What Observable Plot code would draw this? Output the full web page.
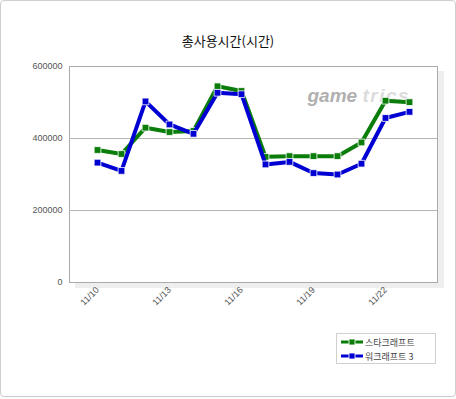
<!DOCTYPE html>
<html>
<head>
<meta charset="utf-8">
<script src="https://cdn.jsdelivr.net/npm/d3@7"></script>
<script src="https://cdn.jsdelivr.net/npm/@observablehq/plot@0.6"></script>
<style>
  html, body { margin: 0; padding: 0; background: #fff; }
  #wrap { position: relative; width: 456px; height: 399px; font-family: "Liberation Sans", "Noto Sans CJK KR", sans-serif; }
  #border { position: absolute; left: 0; top: 0; width: 454px; height: 395px; border: 1px solid #cfcfcf; border-radius: 4px; }
  #title { position: absolute; left: 0; width: 456px; top: 31px; text-align: center; font-size: 13px; color: #111; font-family: "Noto Sans CJK KR", sans-serif; }
  #chart { position: absolute; left: 0; top: 0; }
  #chart svg .shadow { filter: drop-shadow(6px 5px 0 #eeeeee); }
  #chart svg .wm2 text { letter-spacing: 1.5px; }
  #legend { position: absolute; left: 336px; top: 333px; width: 98px; height: 29px; border: 1px solid #d0d0d0; background: #fff; font-family: "Noto Sans CJK KR", sans-serif; font-size: 9px; color: #444; }
  #legend .item { position: absolute; left: 4px; height: 12px; display: flex; align-items: center; }
  #legend svg { margin-right: 2px; }
</style>
</head>
<body>
<div id="wrap">
  <div id="border"></div>
  <div id="chart"></div>
  <div id="title"></div>
  <div id="legend"></div>
</div>
<script>
const chartTitle = "총사용시간(시간)";
const dates = ["11/10","11/11","11/12","11/13","11/14","11/15","11/16","11/17","11/18","11/19","11/20","11/21","11/22","11/23"];
const xTickLabels = ["11/10","11/13","11/16","11/19","11/22"];
const yTicks = [0, 200000, 400000, 600000];
const seriesNames = ["스타크래프트", "워크래프트 3"];
const seriesColors = ["#0a7d0a", "#0000d2"];
const starcraft = [368000, 357000, 430000, 418000, 421000, 545000, 532000, 349000, 351000, 351000, 351000, 389000, 505000, 501000];
const warcraft  = [333000, 310000, 503000, 439000, 413000, 527000, 523000, 328000, 335000, 304000, 300000, 330000, 457000, 474000];
const watermark = ["game", "trics"];

const rows = [];
[starcraft, warcraft].forEach((vals, s) => {
  vals.forEach((v, i) => rows.push({date: dates[i], value: v, series: seriesNames[s]}));
});

const colorOf = Object.fromEntries(seriesNames.map((n, i) => [n, seriesColors[i]]));

const marks = [
  Plot.frame({fill: "white", stroke: "#aaaaaa", className: "shadow"}),
  Plot.gridY([200000, 400000], {stroke: "#b5b5b5", strokeOpacity: 1}),
  Plot.text([watermark[0]], {frameAnchor: "top-left", dx: 238, dy: 22, text: d => d, fill: "#b0b0b0", fontSize: 19, fontWeight: "bold", fontStyle: "italic", textAnchor: "start", fontFamily: "Liberation Sans, sans-serif"}),
  Plot.text([watermark[1]], {frameAnchor: "top-left", dx: 293, dy: 22, text: d => d, fill: "#dcdcdc", fontSize: 19, fontWeight: "bold", fontStyle: "italic", textAnchor: "start", fontFamily: "Liberation Sans, sans-serif", className: "wm2"}),
  Plot.axisX({ticks: xTickLabels, tickRotate: -45, tickSize: 0, tickPadding: 6, fontSize: 9, fill: "#555", label: null}),
  Plot.axisY({ticks: yTicks, tickFormat: d3.format("d"), tickSize: 0, tickPadding: 7, fontSize: 9, fill: "#555", label: null})
];
seriesNames.forEach(name => {
  const data = rows.filter(r => r.series === name);
  marks.push(Plot.line(data, {x: "date", y: "value", stroke: colorOf[name], strokeWidth: 4, strokeLinejoin: "miter"}));
  marks.push(Plot.dot(data, {x: "date", y: "value", symbol: "square", r: 3.8, fill: colorOf[name], stroke: "white", strokeWidth: 0.8}));
});

const plot = Plot.plot({
  width: 456,
  height: 399,
  marginLeft: 69,
  marginRight: 19,
  marginTop: 66,
  marginBottom: 117,
  x: {type: "point", domain: dates, padding: 1, axis: null},
  y: {domain: [0, 600000], axis: null},
  style: {background: "transparent", fontFamily: "Liberation Sans, Noto Sans CJK KR, sans-serif", overflow: "visible"},
  marks
});
document.getElementById("chart").appendChild(plot);
document.getElementById("title").textContent = chartTitle;

const legend = document.getElementById("legend");
seriesNames.forEach((name, i) => {
  const item = document.createElement("div");
  item.className = "item";
  item.style.top = (2 + i * 14) + "px";
  const c = colorOf[name];
  item.innerHTML = `<svg width="22" height="8"><line x1="0" x2="22" y1="4" y2="4" stroke="${c}" stroke-width="3"/><rect x="8" y="1" width="6" height="6" fill="${c}" stroke="white" stroke-width="0.8"/></svg><span></span>`;
  item.querySelector("span").textContent = name;
  legend.appendChild(item);
});
</script>
</body>
</html>
